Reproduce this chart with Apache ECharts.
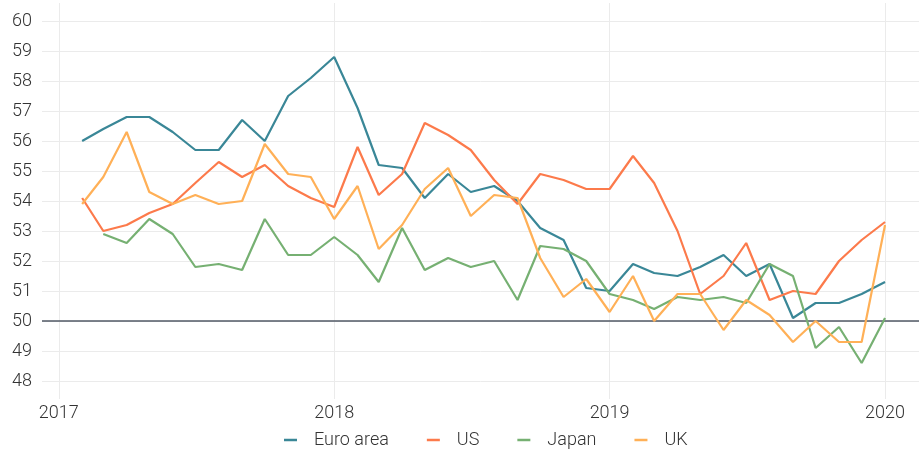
<!DOCTYPE html>
<html>
<head>
<meta charset="utf-8">
<script src="https://cdn.jsdelivr.net/npm/echarts@6/dist/echarts.min.js"></script>
<style>
  html, body { margin: 0; padding: 0; background: #fff; }
  #chart { width: 919px; height: 450px; }
</style>
</head>
<body>
<div id="chart"></div>
<script>
// monthly readings, Feb 2017 .. Jan 2020
const months = [];
for (let y = 2017; y <= 2020; y++) {
    for (let m = 0; m < 12; m++) {
        if ((y === 2017 && m === 0) || (y === 2020 && m > 0)) continue;
        months.push(Date.UTC(y, m, 1));
    }
}

const euroArea = [56.0, 56.4, 56.8, 56.8, 56.3, 55.7, 55.7, 56.7, 56.0, 57.5, 58.1,
    58.8, 57.1, 55.2, 55.1, 54.1, 54.9, 54.3, 54.5, 54.0, 53.1, 52.7, 51.1,
    51.0, 51.9, 51.6, 51.5, 51.8, 52.2, 51.5, 51.9, 50.1, 50.6, 50.6, 50.9,
    51.3];
const us = [54.1, 53.0, 53.2, 53.6, 53.9, 54.6, 55.3, 54.8, 55.2, 54.5, 54.1,
    53.8, 55.8, 54.2, 54.9, 56.6, 56.2, 55.7, 54.7, 53.9, 54.9, 54.7, 54.4,
    54.4, 55.5, 54.6, 53.0, 50.9, 51.5, 52.6, 50.7, 51.0, 50.9, 52.0, 52.7,
    53.3];
const japan = [null, 52.9, 52.6, 53.4, 52.9, 51.8, 51.9, 51.7, 53.4, 52.2, 52.2,
    52.8, 52.2, 51.3, 53.1, 51.7, 52.1, 51.8, 52.0, 50.7, 52.5, 52.4, 52.0,
    50.9, 50.7, 50.4, 50.8, 50.7, 50.8, 50.6, 51.9, 51.5, 49.1, 49.8, 48.6,
    50.1];
const uk = [53.9, 54.8, 56.3, 54.3, 53.9, 54.2, 53.9, 54.0, 55.9, 54.9, 54.8,
    53.4, 54.5, 52.4, 53.2, 54.4, 55.1, 53.5, 54.2, 54.1, 52.1, 50.8, 51.4,
    50.3, 51.5, 50.0, 50.9, 50.9, 49.7, 50.7, 50.2, 49.3, 50.0, 49.3, 49.3,
    53.2];

const seriesNames = ['Euro area', 'US', 'Japan', 'UK'];
const seriesData = [euroArea, us, japan, uk];
const colors = ['#3a8797', '#fc7a4b', '#76b072', '#ffb057'];

const yearTicks = ['2017', '2018', '2019', '2020'];
const yTicks = [48, 49, 50, 51, 52, 53, 54, 55, 56, 57, 58, 59, 60];
const refLine = 50;

const xTickValues = yearTicks.map(y => Date.UTC(+y, 0, 1));
const span = months[months.length - 1] - months[0];
// left padding 5% of the data span; right side is cut by the page edge
const xMin = months[0] - span * 0.05;
const xMax = months[months.length - 1] + span * 0.0423;

const font = 'Roboto, "Noto Sans", sans-serif';
const textColor = '#333333';

const chart = echarts.init(document.getElementById('chart'));

const series = seriesNames.map((name, i) => ({
    name: name,
    type: 'line',
    symbol: 'none',
    data: months.map((t, k) => [t, seriesData[i][k]]),
    lineStyle: { color: colors[i], width: 2.2 },
    itemStyle: { color: colors[i] },
    z: 3
}));
series[0].markLine = {
    silent: true,
    symbol: 'none',
    label: { show: false },
    lineStyle: { color: '#505864', width: 1.5, type: 'solid' },
    data: [{ yAxis: refLine }],
    z: 2
};

chart.setOption({
    animation: false,
    color: colors,
    grid: { left: 42, right: 0, top: 3, bottom: 51, containLabel: false },
    legend: {
        data: seriesNames,
        icon: 'rect',
        left: 279,
        top: 426,
        itemWidth: 13,
        itemHeight: 2.5,
        itemGap: 38,
        formatter: name => '{g|}' + name,
        textStyle: {
            fontFamily: font,
            fontSize: 18,
            fontWeight: 300,
            color: textColor,
            rich: { g: { width: 12 } }
        }
    },
    xAxis: {
        type: 'value',
        min: xMin,
        max: xMax,
        axisLine: { show: false },
        axisTick: { show: false, customValues: xTickValues },
        axisLabel: {
            customValues: xTickValues,
            formatter: v => String(new Date(v).getUTCFullYear()),
            fontFamily: font,
            fontSize: 18,
            fontWeight: 300,
            color: textColor,
            margin: 5
        },
        splitLine: { show: true, lineStyle: { color: '#ebebeb', width: 1 } }
    },
    yAxis: {
        type: 'value',
        min: 47.4,
        max: 60.6,
        axisLine: { show: false },
        axisTick: { show: false, customValues: yTicks },
        axisLabel: {
            customValues: yTicks,
            fontFamily: font,
            fontSize: 18,
            fontWeight: 300,
            color: textColor,
            margin: 10
        },
        splitLine: { show: true, lineStyle: { color: '#ebebeb', width: 1 } }
    },
    series: series
});
</script>
</body>
</html>
